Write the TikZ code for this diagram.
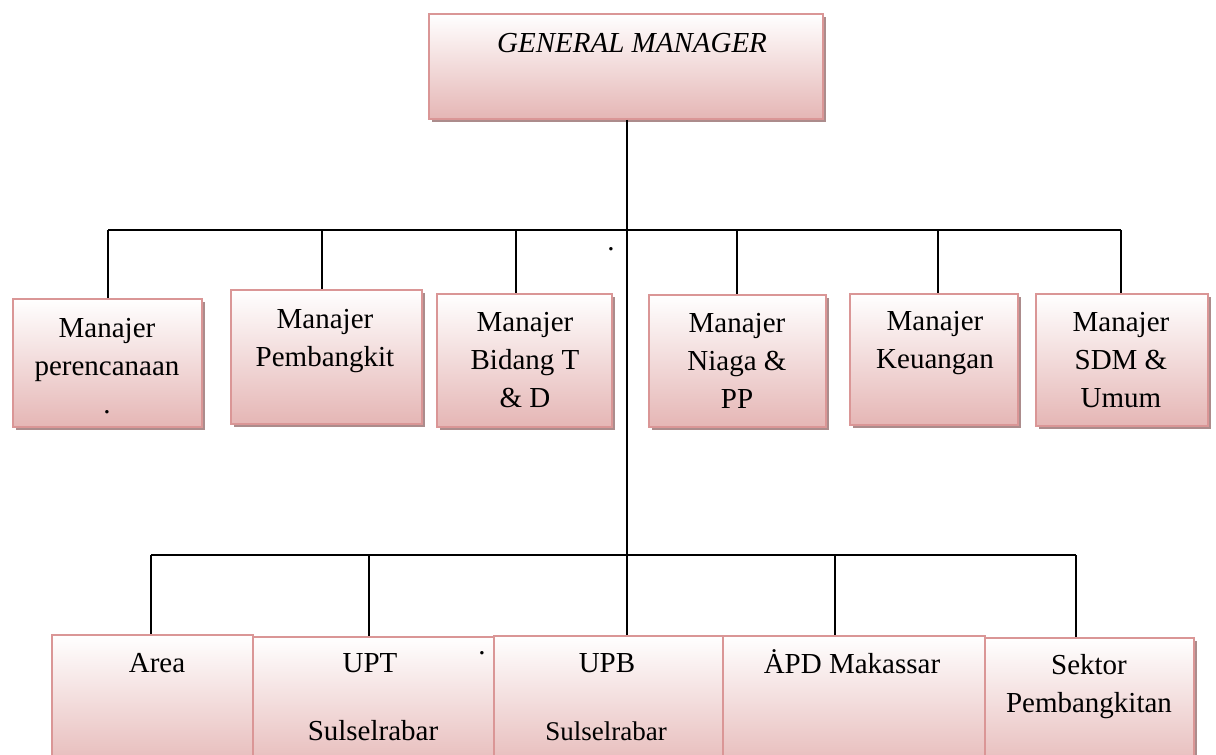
\documentclass[tikz,border=0pt]{standalone}
\usepackage{fontspec}
\setmainfont{Liberation Serif}
\usetikzlibrary{shadows}
\definecolor{bordercol}{RGB}{218,150,150}
\definecolor{pinkbot}{RGB}{229,182,181}
\definecolor{shadowcol}{RGB}{172,140,140}
\tikzset{
  orgbox/.style={rectangle, draw=bordercol, line width=1.8pt, top color=white, bottom color=pinkbot,
    drop shadow={shadow xshift=3.5pt, shadow yshift=-3.5pt, fill=shadowcol, opacity=1},
    inner sep=0pt, anchor=north west},
  lbl/.style={font=\fontsize{29}{38}\selectfont, align=center, anchor=base, inner sep=0pt},
  conn/.style={draw=black, line width=1.5pt},
  straydot/.style={font=\fontsize{29}{38}\selectfont, inner sep=0pt, anchor=base}
}
\begin{document}
\begin{tikzpicture}[x=1pt,y=-1pt]
\clip (0,0) rectangle (1216,755);
% boxes
\node[orgbox, minimum width=394pt, minimum height=105pt] (gm) at (428,13) {};
\node[orgbox, minimum width=189pt, minimum height=128pt] (b1) at (12,298) {};
\node[orgbox, minimum width=191pt, minimum height=134pt] (b2) at (230,289) {};
\node[orgbox, minimum width=175pt, minimum height=133pt] (b3) at (436,293) {};
\node[orgbox, minimum width=177pt, minimum height=132pt] (b4) at (648,294) {};
\node[orgbox, minimum width=168pt, minimum height=131pt] (b5) at (849,293) {};
\node[orgbox, minimum width=172pt, minimum height=132pt] (b6) at (1035,293) {};
\node[orgbox, minimum width=201pt, minimum height=140pt] (c1) at (51,634) {};
\node[orgbox, minimum width=241pt, minimum height=140pt] (c2) at (252,636) {};
\node[orgbox, minimum width=229pt, minimum height=140pt] (c3) at (493,635) {};
\node[orgbox, minimum width=262pt, minimum height=140pt] (c4) at (722,635) {};
\node[orgbox, minimum width=209pt, minimum height=140pt] (c5) at (984,637) {};
% connectors
\coordinate (busL) at (108,230);
\coordinate (busR) at (1121,230);
\coordinate (busC) at (627,230);
\coordinate (lowL) at (151,555);
\coordinate (lowR) at (1076,555);
\coordinate (lowC) at (627,555);
\draw[conn] (gm.south -| busC) -- (lowC);
\draw[conn] (busL) -- (busR);
\draw[conn] (lowL) -- (lowR);
\draw[conn] (busL) -- (busL |- b1.north);
\draw[conn] (322,230) -- (322,289);
\draw[conn] (516,230) -- (516,293);
\draw[conn] (737,230) -- (737,294);
\draw[conn] (938,230) -- (938,293);
\draw[conn] (busR) -- (busR |- b6.north);
\draw[conn] (lowL) -- (lowL |- c1.north);
\draw[conn] (369,555) -- (369,636);
\draw[conn] (lowC) -- (lowC |- c3.north);
\draw[conn] (835,555) -- (835,635);
\draw[conn] (lowR) -- (lowR |- c5.north);
% labels (anchor = baseline of the last line)
\node[lbl, font=\fontsize{29}{38}\selectfont\itshape] (tgm) at (632,52) {GENERAL MANAGER};
\node[lbl] (t1) at (107,413) {Manajer\\perencanaan\\.};
\node[lbl] (t2) at (325,366) {Manajer\\Pembangkit};
\node[lbl] (t3) at (525,407) {Manajer\\Bidang T\\\& D};
\node[lbl] (t4) at (737,408) {Manajer\\Niaga \&\\PP};
\node[lbl] (t5) at (935,368) {Manajer\\Keuangan};
\node[lbl] (t6) at (1121,407) {Manajer\\SDM \&\\Umum};
\node[lbl] (u1) at (157,672) {Area};
\node[lbl] (u2) at (370,672) {UPT};
\node[lbl] (u2b) at (373,740) {Sulselrabar};
\node[lbl] (u3) at (607,672) {UPB};
\node[lbl, font=\fontsize{27}{34}\selectfont] (u3b) at (606,740) {Sulselrabar};
\node[lbl] (u4) at (852,673) {ȦPD Makassar};
\node[lbl] (u5) at (1089,712) {Sektor\\Pembangkitan};
% stray dots
\node[straydot] (d1) at (611,250) {.};
\node[straydot] (d2) at (482,654) {.};
\end{tikzpicture}
\end{document}
